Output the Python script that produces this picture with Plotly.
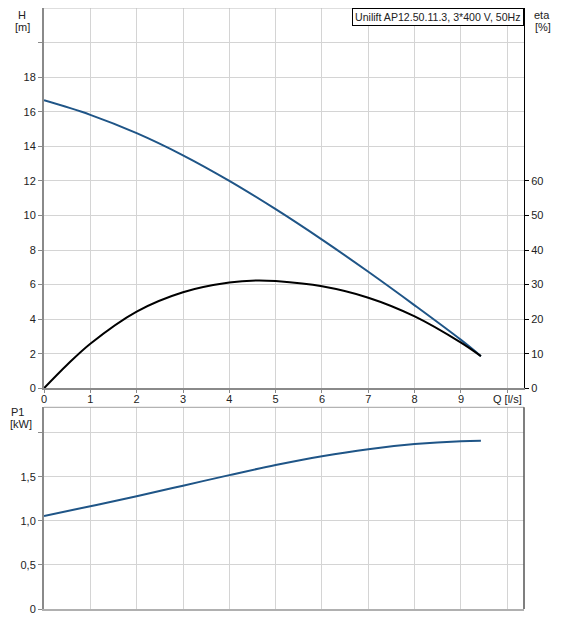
import plotly.graph_objects as go

# Data
q_h = [0, 1, 2, 3, 4, 5, 6, 7, 8, 9, 9.43]
head = [16.66, 15.82, 14.76, 13.48, 12.00, 10.36, 8.60, 6.74, 4.80, 2.80, 1.86]

q_eta = [0, 0.5, 1, 2, 3, 4, 4.6, 5, 6, 7, 8, 9, 9.43]
eta = [0, 6.8, 12.9, 22.2, 27.8, 30.6, 31.2, 31.0, 29.5, 26.2, 20.8, 13.2, 9.3]

q_p = [0, 1, 2, 3, 4, 5, 6, 7, 8, 9, 9.43]
p1 = [1.057, 1.167, 1.28, 1.40, 1.52, 1.635, 1.735, 1.815, 1.872, 1.905, 1.91]

x_tickvals = [0, 1, 2, 3, 4, 5, 6, 7, 8, 9, 10]
x_ticktext = ["0", "1", "2", "3", "4", "5", "6", "7", "8", "9", "Q [l/s]"]
h_tickvals = [0, 2, 4, 6, 8, 10, 12, 14, 16, 18, 20]
h_ticktext = ["0", "2", "4", "6", "8", "10", "12", "14", "16", "18", ""]
eta_tickvals = [0, 10, 20, 30, 40, 50, 60]
p_tickvals = [0, 0.5, 1.0, 1.5, 2.0]
p_ticktext = ["0", "0,5", "1,0", "1,5", ""]
title_text = "Unilift AP12.50.11.3, 3*400 V, 50Hz"

BLUE = "#1f5587"
GRID = "#d4d4d4"
AXIS = "#8a8a8a"
FONT = "Arial, Liberation Sans, sans-serif"

# page body has an 8px margin: figure drawn at (8, 8)
OFF = 8
W, H = 562 - OFF, 623 - OFF
PL, PR, PT, PB = 44, 524, 8, 609   # plot area in screen px
plot_h = PB - PT
plot_w = PR - PL

fig = go.Figure()
fig.add_trace(go.Scatter(x=q_h, y=head, mode="lines", line=dict(color=BLUE, width=2, shape="spline"),
                         xaxis="x", yaxis="y", showlegend=False))
fig.add_trace(go.Scatter(x=q_eta, y=eta, mode="lines", line=dict(color="black", width=2, shape="spline"),
                         xaxis="x", yaxis="y3", showlegend=False))
fig.add_trace(go.Scatter(x=q_p, y=p1, mode="lines", line=dict(color=BLUE, width=2, shape="spline"),
                         xaxis="x2", yaxis="y2", showlegend=False))

top_dom = [(PB - 388.3) / plot_h, 1.0]
bot_dom = [0.0, (PB - 407.3) / plot_h]
xr = [0, 10.36]

fig.update_layout(
    width=W, height=H,
    margin=dict(l=PL - OFF, r=562 - PR, t=PT - OFF, b=623 - PB, autoexpand=False),
    paper_bgcolor="white", plot_bgcolor="white",
    font=dict(family=FONT, size=11, color="#222222"),
    xaxis=dict(domain=[0, 1], range=xr, anchor="y", tickvals=x_tickvals, ticktext=x_ticktext,
               showgrid=True, gridcolor=GRID, gridwidth=1, zeroline=False,
               showline=True, linecolor=AXIS, linewidth=2, ticks="outside", ticklen=3,
               tickcolor=AXIS, ticklabelstandoff=-4),
    yaxis=dict(domain=top_dom, range=[0, 22], anchor="x", tickvals=h_tickvals, ticktext=h_ticktext,
               showgrid=True, gridcolor=GRID, gridwidth=1, zeroline=False,
               showline=True, linecolor=AXIS, linewidth=2, ticks="outside", ticklen=4,
               tickcolor=AXIS),
    yaxis3=dict(overlaying="y", side="right", anchor="x", range=[0, 110], tickvals=eta_tickvals,
                showgrid=False, zeroline=False, showline=True, linecolor="black", linewidth=1,
                ticks="outside", ticklen=4, tickcolor="black"),
    xaxis2=dict(domain=[0, 1], range=xr, anchor="y2", tickvals=x_tickvals, showticklabels=False,
                showgrid=True, gridcolor=GRID, gridwidth=1, zeroline=False,
                showline=True, linecolor="#b0b0b0", linewidth=2, ticks=""),
    yaxis2=dict(domain=bot_dom, range=[0, 2.29], anchor="x2", tickvals=p_tickvals, ticktext=p_ticktext,
                showgrid=True, gridcolor=GRID, gridwidth=1, zeroline=False,
                showline=True, linecolor=AXIS, linewidth=2, ticks="outside", ticklen=4,
                tickcolor=AXIS),
)

# Borders
fig.add_shape(type="line", xref="x domain", yref="y domain", x0=0, x1=1, y0=1, y1=1,
              line=dict(color="#bdbdbd", width=1))
fig.add_shape(type="line", xref="x2 domain", yref="y2 domain", x0=0, x1=1, y0=1, y1=1,
              line=dict(color="#a0a0a0", width=1))
fig.add_shape(type="line", xref="x2 domain", yref="y2 domain", x0=1, x1=1, y0=0, y1=1,
              line=dict(color="#555555", width=1.5))

ann = []
ann.append(dict(text=title_text, xref="paper", yref="paper", x=1, y=1, xanchor="right", yanchor="top",
                showarrow=False, bordercolor="black", borderwidth=1, borderpad=2, bgcolor="white",
                font=dict(size=10.6, color="#222222")))
for txt, x, y in [("H", 22, 15), ("[m]", 22, 27), ("eta", 542, 15), ("[%]", 543, 27),
                  ("P1", 17, 412), ("[kW]", 21, 424)]:
    ann.append(dict(text=txt, xref="paper", yref="paper",
                    x=(x - PL) / plot_w, y=(PB - y) / plot_h, xanchor="center", yanchor="middle",
                    showarrow=False, font=dict(size=11, color="#222222")))
fig.update_layout(annotations=ann)

fig.write_html("out.html")
